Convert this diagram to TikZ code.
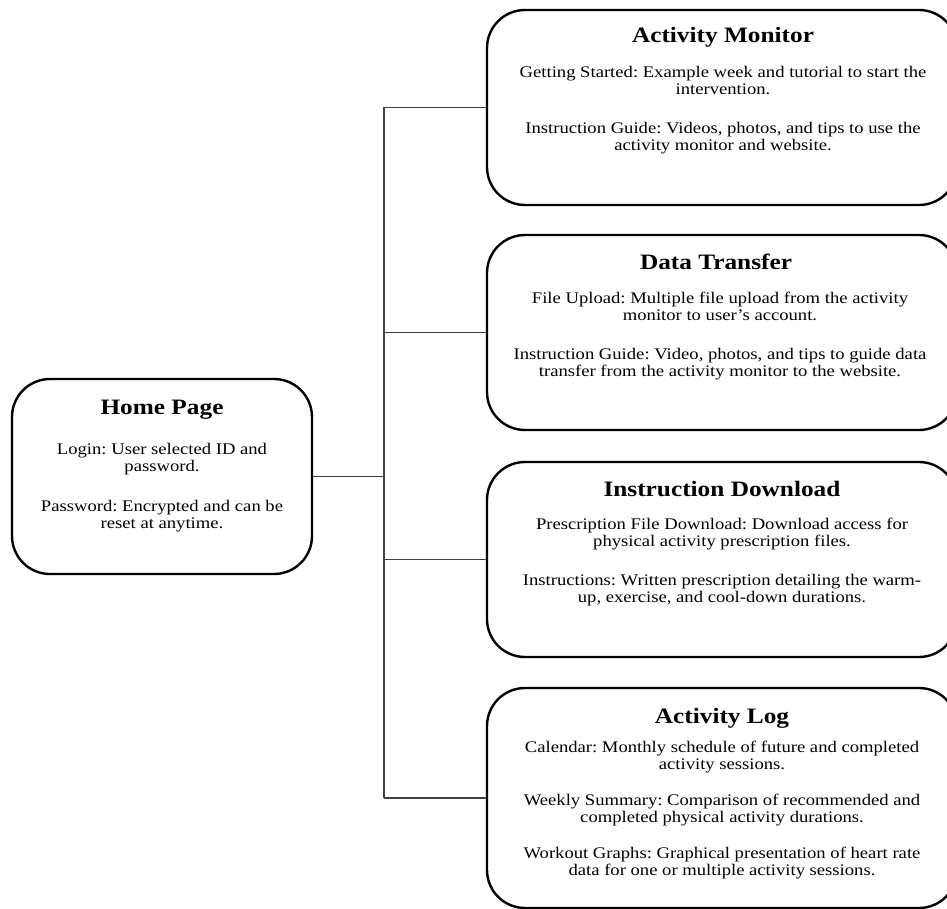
\documentclass[tikz,border=0pt]{standalone}
\usepackage{fontspec}
\setmainfont{Liberation Serif}[FakeStretch=1.15]
\frenchspacing
\begin{document}
\begin{tikzpicture}[x=1pt,y=-1pt,
  box/.style={draw=black, line width=2.4pt, rounded corners=38pt, fill=white},
  ttl/.style={font=\fontsize{22}{26}\selectfont\bfseries, anchor=center, inner sep=0pt},
  body/.style={font=\fontsize{16.2}{17}\selectfont, align=center, anchor=north, inner sep=0pt},
  conn/.style={draw=black!75, line width=1.4pt}]
\useasboundingbox (0,0) rectangle (947,909);
\clip (0,0) rectangle (947,909);
% boxes
\node[box, minimum width=300pt, minimum height=195pt] (home) at (162,476.5) {};
\node[box, minimum width=470pt, minimum height=195pt] (am) at (722,107.5) {};
\node[box, minimum width=470pt, minimum height=195pt] (dt) at (722,332.5) {};
\node[box, minimum width=470pt, minimum height=195pt] (id) at (722,559.5) {};
\node[box, minimum width=470pt, minimum height=220pt] (al) at (722,798) {};
% connectors
\coordinate (bus) at (384,476.5);
\coordinate (b1) at (384,107.5);
\coordinate (b2) at (384,332.5);
\coordinate (b3) at (384,559.5);
\coordinate (b4) at (384,798);
\draw[conn] (home.east) -- (bus);
\draw[conn] (b1) -- (b4);
\draw[conn] (b1) -- (am.west);
\draw[conn] (b2) -- (dt.west);
\draw[conn] (b3) -- (id.west);
\draw[conn] (b4) -- (al.west);
% texts
\node[ttl] (homet) at (162,410) {Home Page};
\node[body] (homeb) at (162,443) {Login: User selected ID and\\password.\\[23pt]Password: Encrypted and can be\\reset at anytime.};
\node[ttl] (amt) at (723,37) {Activity Monitor};
\node[body] (amb) at (723,66) {Getting Started: Example week and tutorial to start the\\intervention.\\[22pt]Instruction Guide: Videos, photos, and tips to use the\\activity monitor and website.};
\node[ttl] (dtt) at (716,262) {Data Transfer};
\node[body] (dtb) at (720,292) {File Upload: Multiple file upload from the activity\\monitor to user's account.\\[22pt]Instruction Guide: Video, photos, and tips to guide data\\transfer from the activity monitor to the website.};
\node[ttl] (idt) at (722,489) {Instruction Download};
\node[body] (idb) at (722,518) {Prescription File Download: Download access for\\physical activity prescription files.\\[22pt]Instructions: Written prescription detailing the warm-\\up, exercise, and cool-down durations.};
\node[ttl] (alt) at (722,718) {Activity Log};
\node[body] (alb) at (722,741) {Calendar: Monthly schedule of future and completed\\activity sessions.\\[19pt]Weekly Summary: Comparison of recommended and\\completed physical activity durations.\\[18.5pt]Workout Graphs: Graphical presentation of heart rate\\data for one or multiple activity sessions.};
\end{tikzpicture}
\end{document}
